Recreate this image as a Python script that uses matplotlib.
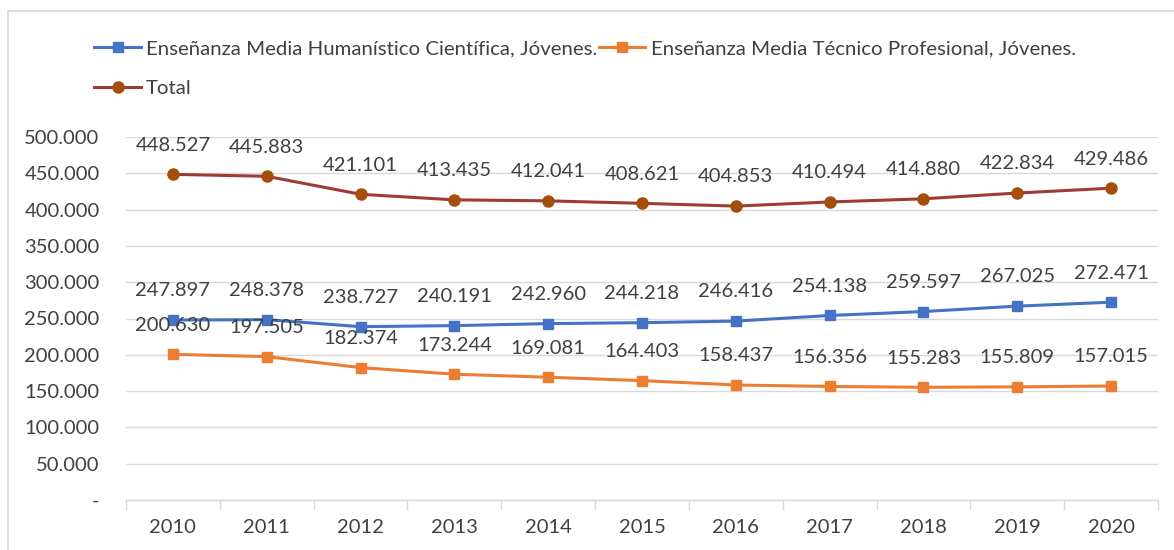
import matplotlib
matplotlib.use("Agg")
import matplotlib.pyplot as plt
from matplotlib.patches import Rectangle
from matplotlib.ticker import FixedLocator

years = ["2010", "2011", "2012", "2013", "2014", "2015", "2016", "2017", "2018", "2019", "2020"]
hc = [247897, 248378, 238727, 240191, 242960, 244218, 246416, 254138, 259597, 267025, 272471]
tp = [200630, 197505, 182374, 173244, 169081, 164403, 158437, 156356, 155283, 155809, 157015]
total = [448527, 445883, 421101, 413435, 412041, 408621, 404853, 410494, 414880, 422834, 429486]
yticks = [0, 50000, 100000, 150000, 200000, 250000, 300000, 350000, 400000, 450000, 500000]

name_hc = "Enseñanza Media Humanístico Científica, Jóvenes."
name_tp = "Enseñanza Media Técnico Profesional, Jóvenes."
name_total = "Total"

plt.rcParams['font.family'] = ['Lato', 'DejaVu Sans']
TXT = '#404040'
GRID = '#D9D9D9'
FS = 14.5

def fmt(v):
    return "-" if v == 0 else f"{v:,}".replace(",", ".")

fig = plt.figure(figsize=(11.74, 5.5), dpi=100)
ax = fig.add_axes([126/1174, 1-500/550, (1158-126)/1174, (500-137)/550])

x = list(range(len(years)))
l1, = ax.plot(x, hc, color='#4472C4', lw=2.2, marker='s', ms=7, mfc='#4472C4', mec='#4472C4', zorder=3)
l2, = ax.plot(x, tp, color='#ED7D31', lw=2.2, marker='s', ms=7, mfc='#ED7D31', mec='#ED7D31', zorder=3)
l3, = ax.plot(x, total, color='#9E3B36', lw=2.2, marker='o', ms=8, mfc='#A44E0C', mec='#A44E0C', zorder=3)

for series in (hc, tp, total):
    for xi, v in zip(x, series):
        ax.annotate(fmt(v), (xi, v), xytext=(0, 21), textcoords='offset points',
                    ha='center', va='center', fontsize=FS, color=TXT, zorder=4)

ax.set_xlim(-0.5, len(years)-0.5)
ax.set_ylim(0, 500000)
ax.set_yticks(yticks)
ax.set_yticklabels([fmt(v) for v in yticks])
ax.yaxis.grid(True, color=GRID, lw=1)
ax.set_axisbelow(True)
ax.tick_params(axis='y', length=0, pad=19, labelsize=FS, labelcolor=TXT)

ax.set_xticks(x)
ax.set_xticklabels(years)
ax.xaxis.set_minor_locator(FixedLocator([i - 0.5 for i in range(len(years)+1)]))
ax.tick_params(axis='x', which='major', length=0, pad=14, labelsize=FS, labelcolor=TXT)
ax.tick_params(axis='x', which='minor', length=7, color=GRID, width=1)

for s in ('top', 'right', 'left'):
    ax.spines[s].set_visible(False)
ax.spines['bottom'].set_color(GRID)
ax.spines['bottom'].set_linewidth(1)

fig.legend([l1, l3, l2], [name_hc, name_total, name_tp], ncol=2, frameon=False,
           loc='upper left', bbox_to_anchor=(86/1174, 1-32/550),
           fontsize=14.7, labelcolor=TXT, handlelength=2.3, handletextpad=0.25,
           columnspacing=0.05, labelspacing=1.1, borderaxespad=0)

fig.patches.append(Rectangle((8/1174, -0.1), 1.1, 1-11/550+0.1, transform=fig.transFigure,
                             fill=False, edgecolor=GRID, lw=1.2))

fig.savefig("out.png", dpi=100)
